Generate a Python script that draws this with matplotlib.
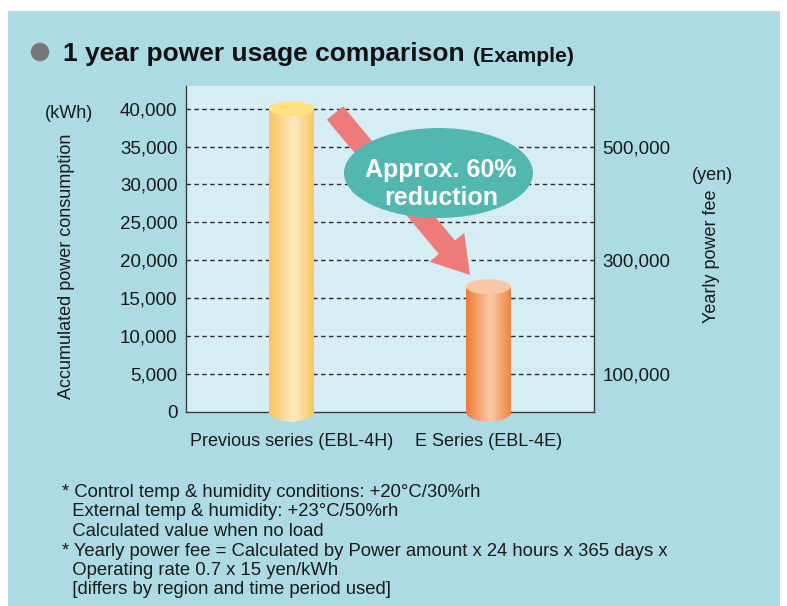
import numpy as np
import matplotlib
matplotlib.use('Agg')
import matplotlib.pyplot as plt
from matplotlib.patches import Rectangle, Ellipse, Circle, FancyArrow
from matplotlib.colors import to_rgb

plt.rcParams['font.family'] = ['Liberation Sans', 'DejaVu Sans']

# data
categories = ['Previous series (EBL-4H)', 'E Series (EBL-4E)']
power_kwh = [40000, 16500]
kwh_ticks = list(range(0, 40001, 5000))
fee_ticks = [100000, 300000, 500000]
fee_tick_kwh = [5000, 20000, 35000]   # where the fee ticks sit on the kWh scale
notes = ['* Control temp & humidity conditions: +20°C/30%rh',
         '  External temp & humidity: +23°C/50%rh',
         '  Calculated value when no load',
         '* Yearly power fee = Calculated by Power amount x 24 hours x 365 days x',
         '  Operating rate 0.7 x 15 yen/kWh',
         '  [differs by region and time period used]']

W, H = 787, 606
PANEL = '#acdbe5'
INNER = '#d5edf3'

def fx(x):
    return x / W

def fy(y):
    return 1 - y / H

fig = plt.figure(figsize=(W / 100, H / 100), dpi=100)
fig.patches.append(Rectangle((fx(8), 0), fx(780 - 8), fy(11), transform=fig.transFigure,
                             facecolor=PANEL, edgecolor='none', zorder=-10))

ax_l, ax_r, ax_t, ax_b = 185.7, 594, 86, 411.7
ax = fig.add_axes([fx(ax_l), fy(ax_b), fx(ax_r - ax_l), (ax_b - ax_t) / H])
ax.set_facecolor(INNER)
ymax = 43000

for s in ['left', 'bottom', 'right']:
    ax.spines[s].set_color('#3a3a3a')
    ax.spines[s].set_linewidth(1.0)
ax.spines['top'].set_visible(False)

for v in kwh_ticks[1:]:
    ax.axhline(v, color='#2a2a2a', lw=1.0, dashes=(3.2, 2.5), zorder=1)

ax.set_yticks(kwh_ticks)
ax.set_yticklabels(['{:,}'.format(v) for v in kwh_ticks], fontsize=13.5, color='#1a1a1a')
x = np.arange(len(categories))
ax.set_xticks(x)
ax.set_xticklabels(categories, fontsize=13, color='#1a1a1a')
ax.tick_params(axis='y', length=0, pad=6)
ax.tick_params(axis='x', length=0, pad=15)

# cylinders drawn as thin vertical strips with a shading ramp
px_per_kwh = (ax_b - ax_t) / ymax
cap_h = 15 / px_per_kwh
depth = 10 / px_per_kwh
bar_w = 0.2286
body_stops = [['#f8c15c', '#fee9c2', '#f7c462'], ['#ee7a35', '#f9cba8', '#ef8441']]
cap_colors = ['#fee27f', '#f8c7a3']
n = 60
for i, v in enumerate(power_kwh):
    c = [np.array(to_rgb(s)) for s in body_stops[i]]
    sw = bar_w / n
    for j in range(n):
        t = (j + 0.5) / n
        if t < 0.55:
            col = c[0] + (c[1] - c[0]) * (t / 0.55)
        else:
            col = c[1] + (c[2] - c[1]) * ((t - 0.55) / 0.45)
        u = 2 * t - 1
        d = depth * np.sqrt(max(0.0, 1 - u * u))
        ax.bar(x[i] - bar_w / 2 + j * sw, v + d, bottom=-d, width=sw * 1.6, align='edge',
               color=col, linewidth=0, clip_on=False, zorder=3)
    ax.add_patch(Ellipse((x[i], v), bar_w, cap_h, facecolor=cap_colors[i],
                         edgecolor='none', zorder=4))
ax.set_xlim(-0.537, 1.536)
ax.set_ylim(0, ymax)

# right axis (yearly fee)
ax2 = ax.twinx()
k = (fee_ticks[-1] - fee_ticks[0]) / (fee_tick_kwh[-1] - fee_tick_kwh[0])
off = fee_ticks[0] - k * fee_tick_kwh[0]
ax2.set_ylim(off, off + k * ymax)
ax2.set_yticks(fee_ticks)
ax2.set_yticklabels(['{:,}'.format(v) for v in fee_ticks], fontsize=13.5, color='#1a1a1a')
ax2.tick_params(axis='y', length=0, pad=6)
for s in ax2.spines.values():
    s.set_visible(False)

# axis titles
fig.text(fx(67), fy(266), 'Accumulated power consumption', rotation=90, ha='center',
         va='center', fontsize=13, color='#1a1a1a')
fig.text(fx(69), fy(113), '(kWh)', ha='center', va='center', fontsize=13, color='#1a1a1a')
fig.text(fx(712), fy(256), 'Yearly power fee', rotation=90, ha='center', va='center',
         fontsize=13, color='#1a1a1a')
fig.text(fx(712), fy(175), '(yen)', ha='center', va='center', fontsize=13, color='#1a1a1a')

# title
px = fig.dpi_scale_trans.frozen().scale(0.01)   # pixel units, origin bottom-left
fig.patches.append(Circle((40, H - 52), 9.2, transform=px, facecolor='#777777',
                          edgecolor='none'))
fig.text(fx(63), fy(61.5), '1 year power usage comparison', ha='left', va='baseline',
         fontsize=19, fontweight='bold', color='#111111')
fig.text(fx(473), fy(61.5), '(Example)', ha='left', va='baseline',
         fontsize=15.2, fontweight='bold', color='#111111')

# arrow + bubble
fig.patches.append(FancyArrow(335, H - 113, 470 - 335, -(275 - 113), width=21,
                              head_width=45, head_length=36, length_includes_head=True,
                              transform=px, facecolor='#ee7b79', edgecolor='none', zorder=1))
fig.patches.append(Ellipse((438.5, H - 173), 189, 90, transform=px,
                           facecolor='#52b7b1', edgecolor='none', zorder=2))
fig.text(fx(441), fy(177), 'Approx. 60%', ha='center', va='baseline', fontsize=18,
         fontweight='bold', color='white', zorder=3)
fig.text(fx(441), fy(205), 'reduction', ha='center', va='baseline', fontsize=18,
         fontweight='bold', color='white', zorder=3)

# footnotes
for j, line in enumerate(notes):
    fig.text(fx(62), fy(497 + 19.5 * j), line, ha='left', va='baseline', fontsize=13.3,
             color='#1a1a1a')

fig.savefig('out.png', dpi=100)
